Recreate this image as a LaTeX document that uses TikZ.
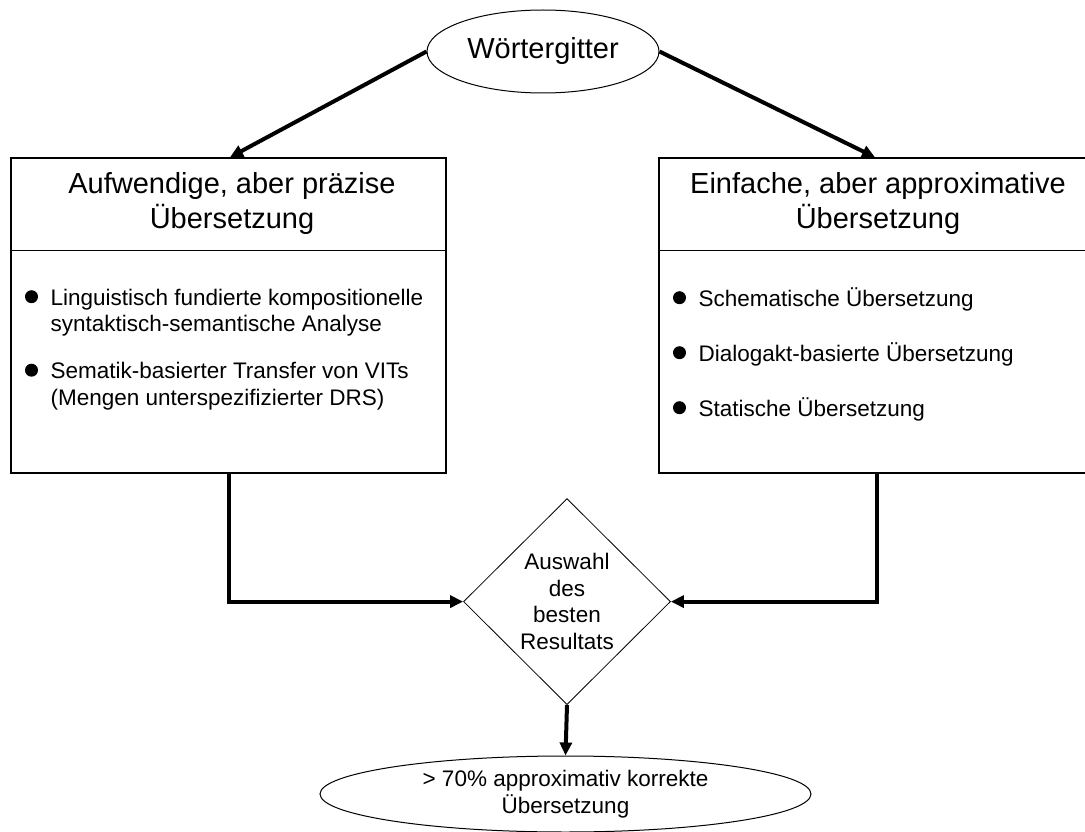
\documentclass[tikz,border=0pt]{standalone}
\usepackage{fontspec}
\setmainfont{Liberation Sans}
\usetikzlibrary{arrows.meta,shapes.geometric,positioning}

\begin{document}
\begin{tikzpicture}[x=1pt,y=-1pt,
  big/.style={font=\fontsize{29}{35}\selectfont},
  small/.style={font=\fontsize{22.5}{26.5}\selectfont},
  oval/.style={draw,ellipse,inner sep=0pt,line width=1pt},
  box/.style={draw,rectangle,line width=1.5pt,minimum width=435pt,minimum height=315pt,inner sep=0pt},
  conn/.style={line width=4pt,-{Triangle[length=13pt,width=12pt]}},
  dot/.style={circle,fill,inner sep=0pt,minimum size=13pt}]
\clip (0,0) rectangle (1085,832);

\node[oval,big,minimum width=232pt,minimum height=83pt] (W) at (543,51.5) {Wörtergitter};

\node[box] (L) at (228.5,315.5) {};
\node[box] (R) at (876.5,315.5) {};
\draw[line width=1.5pt] (L.west |- 0,250.7) -- (L.east |- 0,250.7);
\draw[line width=1.5pt] (R.west |- 0,250.7) -- (R.east |- 0,250.7);

% base = Grundlinie der letzten Zeile
\node[big,align=center,anchor=base] (Lt) at (232,228) {Aufwendige, aber präzise\\Übersetzung};
\node[big,align=center,anchor=base] (Rt) at (878,228) {Einfache, aber approximative\\Übersetzung};

% linke Liste
\node[dot] (Ld1) at (31.5,296.7) {};
\node[small,align=left,anchor=base west] (Li1) at (47,331.5) {Linguistisch fundierte kompositionelle\\syntaktisch-semantische Analyse};
\node[dot] (Ld2) at (31.5,370.2) {};
\node[small,align=left,anchor=base west] (Li2) at (47,405) {Sematik-basierter Transfer von VITs\\(Mengen unterspezifizierter DRS)};

% rechte Liste
\node[dot] (Rd1) at (679.5,297.7) {};
\node[small,anchor=base west] (Ri1) at (695,306) {Schematische Übersetzung};
\node[dot] (Rd2) at (679.5,352.7) {};
\node[small,anchor=base west] (Ri2) at (695,361) {Dialogakt-basierte Übersetzung};
\node[dot] (Rd3) at (679.5,407.7) {};
\node[small,anchor=base west] (Ri3) at (695,416) {Statische Übersetzung};

\node[draw,diamond,line width=.8pt,minimum width=207pt,minimum height=206pt,inner sep=0pt] (S) at (567,601.6) {};
\node[small,align=center,font=\fontsize{22.5}{26.6}\selectfont] (St) at (S.center) {Auswahl\\des\\besten\\Resultats};

\node[oval,small,align=center,minimum width=491pt,minimum height=76pt] (E) at (565.5,794) {> 70\% approximativ korrekte\\Übersetzung};

\draw[conn] (W.west) -- ([xshift=1.5pt]L.north);
\draw[conn] (W.east) -- ([xshift=-1.5pt]R.north);
\draw[conn] (L.south) |- (S.west);
\draw[conn] (R.south) |- (S.east);
\draw[conn] (S.south) -- (E.north);

\end{tikzpicture}
\end{document}
